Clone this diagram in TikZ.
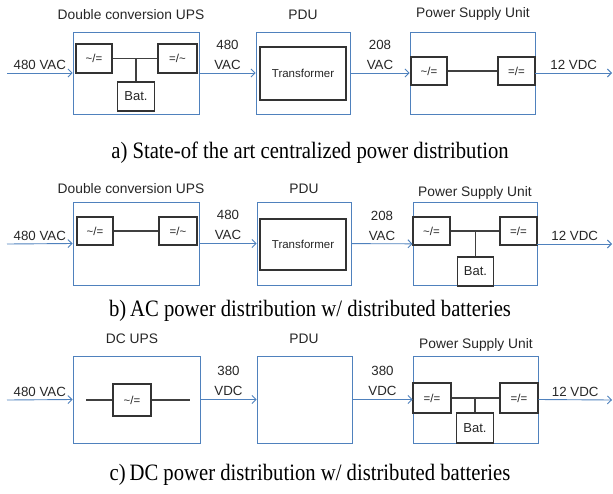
\documentclass[tikz,border=0pt]{standalone}
\usepackage{fontspec}
\setmainfont{Liberation Serif}
\setsansfont{Liberation Sans}
\newfontfamily\captfont{Liberation Serif}[FakeStretch=0.88]
\usetikzlibrary{arrows.meta, positioning}
\definecolor{lineblue}{RGB}{79,129,189}

\begin{document}
\begin{tikzpicture}[
    x=1pt, y=-1pt,
    ob/.style={rectangle, draw=lineblue, line width=0.9pt, inner sep=0pt},
    cv/.style={rectangle, draw=black!80, line width=1.3pt, inner sep=0pt, font=\sffamily\fontsize{11.5}{13}\selectfont, text=black!85},
    a/.style={-{Straight Barb[length=4pt, width=8pt]}, line width=0.9pt, lineblue},
    w/.style={line width=1.3pt, black!75},
    t/.style={font=\sffamily\fontsize{13.8}{16}\selectfont, text=black!85, anchor=base, inner sep=0pt},
    v/.style={midway, above, inner sep=3pt, align=center, font=\sffamily\fontsize{13.3}{20}\selectfont, text=black!85},
    capt/.style={font=\captfont\fontsize{23.5}{26}\selectfont, anchor=base, inner sep=0pt},
]
\useasboundingbox (0,0) rectangle (613,493);

% a) centralized
\node[ob, minimum width=126pt, minimum height=82pt] (upsA) at (136,73) {};
\node[ob, minimum width=94pt, minimum height=82pt] (pduA) at (303,73) {};
\node[ob, minimum width=125pt, minimum height=82pt] (psuA) at (472.5,73) {};
\node[t] at (131,19) {Double conversion UPS};
\node[t] at (303,19) {PDU};
\node[t] at (473,17) {Power Supply Unit};
\node[cv, minimum width=36pt, minimum height=29pt] (cA1) at (94,58.5) {\textasciitilde/=};
\node[cv, minimum width=39pt, minimum height=29pt] (cA2) at (177.5,58.5) {=/\textasciitilde};
\node[cv, minimum width=37pt, minimum height=29pt, font=\sffamily\fontsize{13}{15}\selectfont] (batA) at (136,96.5) {Bat.};
\node[cv, minimum width=86pt, minimum height=53pt] (trA) at (303,73.5) {Transformer};
\node[cv, minimum width=36pt, minimum height=28pt] (pA1) at (429,71) {\textasciitilde/=};
\node[cv, minimum width=37pt, minimum height=28pt] (pA2) at (516.5,71) {=/=};
\draw[w] (cA1) -- (cA2);
\draw[w] (batA.north) -- (batA.north |- cA1.east);
\draw[w] (pA1) -- (pA2);
\coordinate (inA) at (7,73);
\coordinate (outA) at (612,73);
\draw[a] (inA) -- (upsA.west) node[v] {480 VAC};
\draw[a] (upsA) -- (pduA) node[v] {480\\VAC};
\draw[a] (pduA) -- (psuA) node[v] {208\\VAC};
\draw[a] (psuA.east) -- (outA) node[v] {12 VDC};
\node[capt] at (310,158) {a) State-of the art centralized power distribution};

% b) AC, distributed batteries
\node[ob, minimum width=126pt, minimum height=83pt] (upsB) at (136,243.5) {};
\node[ob, minimum width=94pt, minimum height=83pt] (pduB) at (304,243.5) {};
\node[ob, minimum width=124pt, minimum height=83pt] (psuB) at (475,244) {};
\node[t] at (131,193) {Double conversion UPS};
\node[t] at (304,193) {PDU};
\node[t] at (475,196) {Power Supply Unit};
\node[cv, minimum width=36pt, minimum height=28pt] (cB1) at (95,231) {\textasciitilde/=};
\node[cv, minimum width=38pt, minimum height=28pt] (cB2) at (178,231) {=/\textasciitilde};
\node[cv, minimum width=86pt, minimum height=51pt] (trB) at (303,244.5) {Transformer};
\node[cv, minimum width=37pt, minimum height=28pt] (pB1) at (431.5,231) {\textasciitilde/=};
\node[cv, minimum width=37pt, minimum height=28pt] (pB2) at (518.5,231) {=/=};
\node[cv, minimum width=36pt, minimum height=29pt, font=\sffamily\fontsize{13}{15}\selectfont] (batB) at (475.5,271.5) {Bat.};
\draw[w] (cB1) -- (cB2);
\draw[w] (pB1) -- (pB2);
\draw[w] (batB.north) -- (batB.north |- pB1.east);
\coordinate (inB) at (7,244);
\coordinate (outB) at (612,244);
\draw[a] (inB) -- (upsB.west) node[v] {480 VAC};
\draw[a] (upsB) -- (pduB) node[v] {480\\VAC};
\draw[a] (pduB) -- (psuB) node[v] {208\\VAC};
\draw[a] (psuB.east) -- (outB) node[v] {12 VDC};
\node[capt] at (310,316) {b)\,AC power distribution w/ distributed batteries};

% c) DC, distributed batteries
\node[ob, minimum width=127pt, minimum height=87pt] (upsC) at (136.5,399.5) {};
\node[ob, minimum width=95pt, minimum height=87pt] (pduC) at (304.5,399.5) {};
\node[ob, minimum width=125pt, minimum height=87pt] (psuC) at (475.5,399.5) {};
\node[t] at (132,343) {DC UPS};
\node[t] at (304,343) {PDU};
\node[t] at (476,348) {Power Supply Unit};
\node[cv, minimum width=38pt, minimum height=32pt] (cC) at (132,400) {\textasciitilde/=};
\coordinate (cCl) at (86,400);
\coordinate (cCr) at (190,400);
\draw[w] (cCl) -- (cC.west);
\draw[w] (cC.east) -- (cCr);
\node[cv, minimum width=38pt, minimum height=30pt] (pC1) at (432,398) {=/=};
\node[cv, minimum width=38pt, minimum height=30pt] (pC2) at (519,398) {=/=};
\node[cv, minimum width=37pt, minimum height=30pt, font=\sffamily\fontsize{13}{15}\selectfont] (batC) at (475,428) {Bat.};
\draw[w] (pC1) -- (pC2);
\draw[w] (batC.north) -- (batC.north |- pC1.east);
\coordinate (inC) at (7,400);
\coordinate (outC) at (612,400);
\draw[a] (inC) -- (upsC.west) node[v] {480 VAC};
\draw[a] (upsC) -- (pduC) node[v] {380\\VDC};
\draw[a] (pduC) -- (psuC) node[v] {380\\VDC};
\draw[a] (psuC.east) -- (outC) node[v] {12 VDC};
\node[capt] at (310,480) {c)\,DC power distribution w/ distributed batteries};
\end{tikzpicture}
\end{document}
